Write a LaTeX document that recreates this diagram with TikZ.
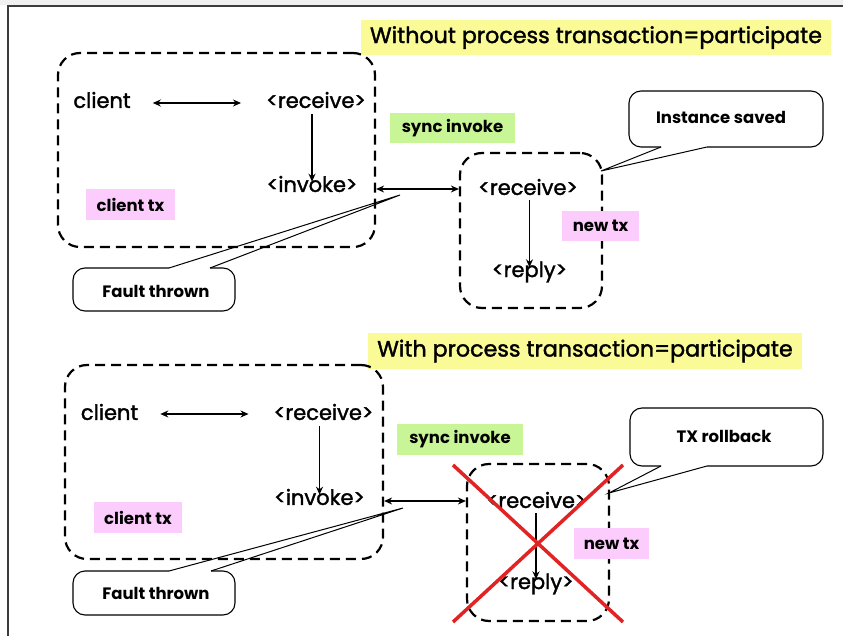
\documentclass[tikz,border=0pt]{standalone}
\usepackage{fontspec}
\setmainfont{Poppins}
\newfontfamily\medfont{Poppins}[FakeBold=1.6]
\usetikzlibrary{arrows.meta}
\definecolor{titleyellow}{RGB}{250,250,150}
\definecolor{txpink}{RGB}{252,205,252}
\definecolor{syncgreen}{RGB}{200,245,150}
\definecolor{crossred}{RGB}{225,35,35}
\definecolor{framegray}{RGB}{60,60,60}
\tikzset{
  txbox/.style={draw, dashed, dash pattern=on 10pt off 6pt, line width=2.2pt, rounded corners=22pt},
  lbl/.style={inner sep=0pt, font=\medfont\fontsize{21}{24}\selectfont},
  title/.style={fill=titleyellow, inner sep=0pt, font=\medfont\fontsize{22.2}{26}\selectfont},
  tag/.style={inner sep=0pt, font=\fontsize{16.5}{19}\selectfont\bfseries},
  calloutline/.style={line width=1.1pt, rounded corners=12pt},
  tailline/.style={line width=1pt},
  flow/.style={line width=1.3pt, -{Stealth[length=8pt,width=7pt]}},
  both/.style={line width=1.3pt, {Stealth[length=8pt,width=7pt]}-{Stealth[length=8pt,width=7pt]}},
  cross/.style={crossred, line width=3.5pt}
}
\begin{document}
\begin{tikzpicture}[x=1pt, y=-1pt]
\useasboundingbox (0,0) rectangle (843,636);
% page frame
\fill[black!6] (0,0) rectangle (843,5);
\draw[framegray, line width=1.5pt] (843,6) -- (8,6) -- (8,636);

% ---------- upper panel ----------
\node[title, minimum width=470pt, minimum height=35pt] (title1) at (596,37.5) {Without process transaction=participate};
\node[txbox, minimum width=317pt, minimum height=194pt] (cbox1) at (216.5,150) {};
\node[lbl] (client1) at (102,100) {client};
\node[lbl] (recv1) at (316,100) {<receive>};
\node[lbl] (inv1) at (312,184) {<invoke>};
\node[tag, fill=txpink, minimum width=89pt, minimum height=31pt] (ctx1) at (130.5,204.5) {client tx};
\node[tag, fill=syncgreen, minimum width=125pt, minimum height=30pt] (sync1) at (452.5,128) {sync invoke};
\node[txbox, minimum width=142pt, minimum height=155pt] (sbox1) at (531,230.5) {};
\node[lbl] (srecv1) at (528,187) {<receive>};
\node[lbl] (reply1) at (529.5,272) {<reply>};
\node[tag, fill=txpink, minimum width=77pt, minimum height=30pt] (newtx1) at (600.5,226) {new tx};

\draw[both] ([xshift=22pt,yshift=-3pt]client1.east) -- ([xshift=-25pt,yshift=-3pt]recv1.west);
\draw[flow] ([yshift=-6pt]recv1.south -| inv1) -- ([yshift=-6pt]inv1.north);
\draw[both] (cbox1.east |- 0,189) -- (sbox1.west |- 0,189);
\draw[flow] ([yshift=-5pt]srecv1.south -| reply1) -- ([yshift=-6pt]reply1.north);

% callout: Instance saved
\node[tag] (saved) at (721,117) {Instance saved};
\coordinate (savedtip) at (601,171);
\draw[calloutline] (661,147) -- (629,147) -- (629,91) -- (823,91) -- (823,147) -- (707,147);
\draw[tailline] (661,147) -- (savedtip) -- (707,147);

% callout: Fault thrown
\node[tag] (fault1) at (156,291) {Fault thrown};
\coordinate (fault1tip) at (400,195);
\draw[calloutline] (169,268) -- (73,268) -- (73,311) -- (235,311) -- (235,268) -- (210,268);
\draw[tailline] (169,268) -- (fault1tip) -- (210,268);

% ---------- lower panel ----------
\node[title, minimum width=434pt, minimum height=36pt] (title2) at (585,351) {With process transaction=participate};
\node[txbox, minimum width=318pt, minimum height=194pt] (cbox2) at (224,462) {};
\node[lbl] (client2) at (109.5,412) {client};
\node[lbl] (recv2) at (323.5,412) {<receive>};
\node[lbl] (inv2) at (319.5,497) {<invoke>};
\node[tag, fill=txpink, minimum width=88pt, minimum height=31pt] (ctx2) at (138,517.5) {client tx};
\node[tag, fill=syncgreen, minimum width=126pt, minimum height=31pt] (sync2) at (460,439.5) {sync invoke};
\node[txbox, minimum width=142pt, minimum height=157pt] (sbox2) at (538,542.5) {};
\node[lbl] (srecv2) at (536.5,500) {<receive>};
\node[lbl] (reply2) at (536,584) {<reply>};
\node[tag, fill=txpink, minimum width=75pt, minimum height=31pt] (newtx2) at (611.5,543.5) {new tx};

\draw[both] ([xshift=22pt,yshift=-2pt]client2.east) -- ([xshift=-25pt,yshift=-2pt]recv2.west);
\draw[flow] ([yshift=-6pt]recv2.south -| inv2) -- ([yshift=-6pt]inv2.north);
\draw[both] (cbox2.east |- 0,501) -- (sbox2.west |- 0,501);
\draw[flow] ([yshift=-5pt]srecv2.south -| reply2) -- ([yshift=-6pt]reply2.north);

% callout: TX rollback
\node[tag] (rollback) at (724,436) {TX rollback};
\coordinate (rollbacktip) at (609,493);
\draw[calloutline] (661,466) -- (630,466) -- (630,408) -- (823,408) -- (823,466) -- (707,466);
\draw[tailline] (661,466) -- (rollbacktip) -- (707,466);

% callout: Fault thrown
\node[tag] (fault2) at (156,593) {Fault thrown};
\coordinate (fault2tip) at (403,508);
\draw[calloutline] (169,571) -- (73,571) -- (73,615) -- (235,615) -- (235,571) -- (211,571);
\draw[tailline] (169,571) -- (fault2tip) -- (211,571);

% rolled-back service scope
\coordinate (x1) at (453,465);
\coordinate (x2) at (623,622);
\coordinate (x3) at (623,465);
\coordinate (x4) at (453,622);
\draw[cross] (x1) -- (x2);
\draw[cross] (x3) -- (x4);
\end{tikzpicture}
\end{document}
